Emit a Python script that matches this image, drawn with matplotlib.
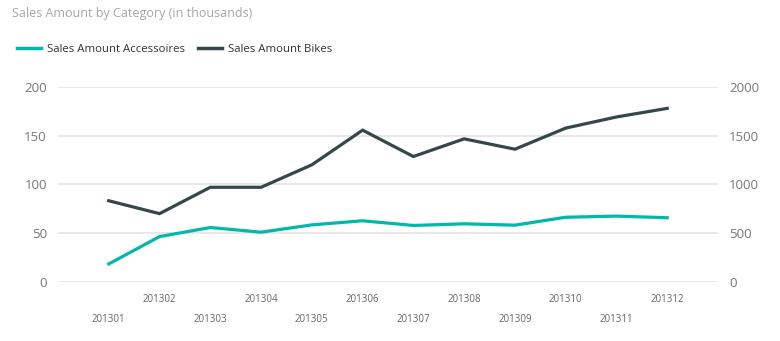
import matplotlib
matplotlib.use("Agg")
import matplotlib.pyplot as plt
from matplotlib.lines import Line2D

plt.rcParams['font.family'] = ['Open Sans', 'DejaVu Sans']

months = ["201301", "201302", "201303", "201304", "201305", "201306",
          "201307", "201308", "201309", "201310", "201311", "201312"]
accessories = [18.5, 46.5, 55.8, 51.0, 58.5, 62.7, 57.9, 59.6, 58.2, 66.3, 67.5, 65.8]
bikes = [832, 700, 970, 970, 1200, 1555, 1285, 1466, 1360, 1576, 1690, 1778]
left_ticks = [0, 50, 100, 150, 200]
right_ticks = [0, 500, 1000, 1500, 2000]

teal = "#01B8AA"
dark = "#374649"
grid_c = "#e4e4e4"
tick_c = "#777777"

fig = plt.figure(figsize=(7.8, 3.41), dpi=100)
ax = fig.add_axes([58/780, (341-282)/341, (718-58)/780, (282-86.7)/341])
ax2 = ax.twinx()

x = list(range(len(months)))
ax.plot(x, accessories, color=teal, lw=2.3, solid_joinstyle='miter', zorder=3)
ax2.plot(x, bikes, color=dark, lw=2.3, solid_joinstyle='miter', zorder=3)

ax.set_xlim(-1, 12)
ax.set_ylim(0, 200)
ax2.set_ylim(0, 2000)
ax.set_yticks(left_ticks)
ax2.set_yticks(right_ticks)
ax.set_yticklabels([str(t) for t in left_ticks])
ax2.set_yticklabels([str(t) for t in right_ticks])

ax.grid(axis='y', color=grid_c, lw=1.2)
ax.set_axisbelow(True)
for a in (ax, ax2):
    for s in a.spines.values():
        s.set_visible(False)
ax.tick_params(axis='y', length=0, pad=8, labelsize=9.5, labelcolor=tick_c)
ax2.tick_params(axis='y', length=0, pad=8, labelsize=9.5, labelcolor=tick_c)

# staggered x labels
even = [i for i in x if i % 2 == 1]
odd = [i for i in x if i % 2 == 0]
ax.set_xticks(even)
ax.set_xticklabels([months[i] for i in even])
ax.set_xticks(odd, minor=True)
ax.set_xticklabels([months[i] for i in odd], minor=True)
ax.tick_params(axis='x', which='major', length=0, pad=9, labelsize=7, labelcolor="#666666")
ax.tick_params(axis='x', which='minor', length=0, pad=23, labelsize=7, labelcolor="#666666")

fig.text(12/780, 1 - 13/341, "Sales Amount by Category (in thousands)", fontsize=9,
         color="#a6a6a6", va='center', ha='left')

handles = [Line2D([0], [0], color=teal, lw=2.5), Line2D([0], [0], color=dark, lw=2.5)]
fig.legend(handles, ["Sales Amount Accessoires", "Sales Amount Bikes"],
           loc='center left', bbox_to_anchor=(17/780, 1 - 49/341), ncol=2, frameon=False,
           fontsize=8.2, handlelength=2.1, handletextpad=0.5, columnspacing=1.2,
           borderaxespad=0, borderpad=0, labelcolor="#333333")

fig.savefig("out.png", dpi=100)
